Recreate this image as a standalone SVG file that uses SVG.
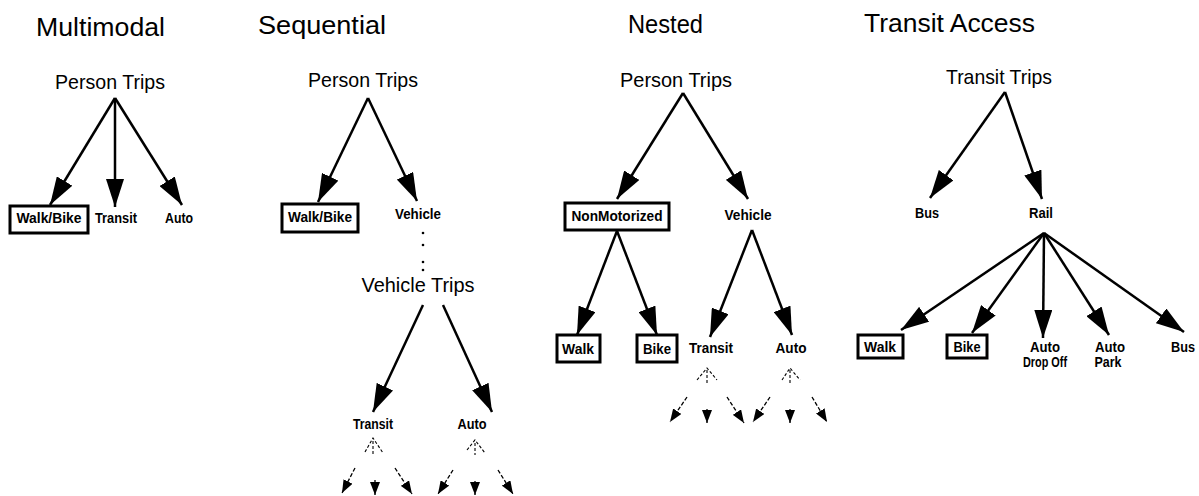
<svg xmlns="http://www.w3.org/2000/svg" width="1199" height="496" viewBox="0 0 1199 496">
<style>
.title{font-family:"Liberation Sans",Arial,sans-serif;font-size:25px;fill:#000}
.root{font-family:"Liberation Sans Narrow","Liberation Sans",Arial,sans-serif;font-size:21px;fill:#000;text-anchor:middle}
.lbl{font-family:"Liberation Sans",Arial,sans-serif;font-size:15px;font-weight:bold;fill:#000;text-anchor:middle}
.box{fill:#fff;stroke:#000;stroke-width:3}
.edge{stroke:#000;stroke-width:2.5;fill:none;marker-end:url(#big)}
.sm{stroke:#000;stroke-width:1.3;fill:none;stroke-dasharray:4 2;marker-end:url(#small)}
.caret{stroke:#000;stroke-width:1.1;fill:none;stroke-dasharray:3 2}
</style>
<defs>
<marker id="big" markerUnits="userSpaceOnUse" markerWidth="30" markerHeight="18" refX="28" refY="9" orient="auto">
<path d="M0,0 L28,9 L0,18 z" fill="#000"/>
</marker>
<marker id="small" markerUnits="userSpaceOnUse" markerWidth="14" markerHeight="10" refX="13" refY="5" orient="auto">
<path d="M0,0 L13,5 L0,10 z" fill="#000"/>
</marker>
</defs>
<rect width="1199" height="496" fill="#fff"/>

<g id="titles">
<text class="title" x="36" y="36" textLength="129" lengthAdjust="spacingAndGlyphs">Multimodal</text>
<text class="title" x="258" y="34" textLength="128" lengthAdjust="spacingAndGlyphs">Sequential</text>
<text class="title" x="628" y="33" textLength="75" lengthAdjust="spacingAndGlyphs">Nested</text>
<text class="title" x="864" y="32" textLength="171" lengthAdjust="spacingAndGlyphs">Transit   Access</text>
</g>

<g id="connectors">
<!-- Multimodal -->
<line class="edge" x1="115" y1="98" x2="50" y2="205"/>
<line class="edge" x1="115" y1="98" x2="115" y2="207"/>
<line class="edge" x1="115" y1="98" x2="182" y2="205"/>
<!-- Sequential -->
<line class="edge" x1="368" y1="98" x2="318" y2="202"/>
<line class="edge" x1="368" y1="98" x2="417" y2="201"/>
<line class="edge" x1="423" y1="305" x2="373" y2="412"/>
<line class="edge" x1="443" y1="305" x2="492" y2="412"/>
<path class="caret" d="M365,452 L373,438 L383,453 M373,441 L373,456"/>
<path class="caret" d="M467,450 L475,440 L485,453 M475,443 L475,455"/>
<line class="sm" x1="355" y1="468" x2="342" y2="493"/>
<line class="sm" x1="375" y1="480" x2="375" y2="495"/>
<line class="sm" x1="395" y1="468" x2="412" y2="494"/>
<line class="sm" x1="453" y1="470" x2="438" y2="494"/>
<line class="sm" x1="475" y1="481" x2="475" y2="495"/>
<line class="sm" x1="498" y1="470" x2="513" y2="494"/>
<!-- Nested -->
<line class="edge" x1="683" y1="93" x2="617" y2="199"/>
<line class="edge" x1="683" y1="93" x2="748" y2="199"/>
<line class="edge" x1="617" y1="231" x2="577" y2="335"/>
<line class="edge" x1="617" y1="231" x2="657" y2="335"/>
<line class="edge" x1="752" y1="230" x2="710" y2="337"/>
<line class="edge" x1="752" y1="230" x2="792" y2="335"/>
<path class="caret" d="M697,380 L707,368 L717,380 M707,370 L707,383"/>
<path class="caret" d="M782,380 L790,368 L800,380 M790,370 L790,383"/>
<line class="sm" x1="687" y1="397" x2="670" y2="422"/>
<line class="sm" x1="707" y1="409" x2="707" y2="423"/>
<line class="sm" x1="727" y1="397" x2="744" y2="423"/>
<line class="sm" x1="770" y1="397" x2="753" y2="422"/>
<line class="sm" x1="790" y1="409" x2="790" y2="423"/>
<line class="sm" x1="812" y1="397" x2="827" y2="422"/>
<!-- Transit Access -->
<line class="edge" x1="1005" y1="92" x2="930" y2="198"/>
<line class="edge" x1="1005" y1="92" x2="1042" y2="199"/>
<line class="edge" x1="1044" y1="233" x2="901" y2="330"/>
<line class="edge" x1="1044" y1="233" x2="972" y2="333"/>
<line class="edge" x1="1044" y1="233" x2="1043" y2="338"/>
<line class="edge" x1="1044" y1="233" x2="1109" y2="335"/>
<line class="edge" x1="1044" y1="233" x2="1184" y2="332"/>
</g>

<!-- Multimodal nodes -->
<g id="mm-root"><text class="root" x="110" y="89" textLength="110" lengthAdjust="spacingAndGlyphs">Person  Trips</text></g>
<g id="mm-walkbike"><rect class="box" x="10" y="206" width="78" height="27"/><text class="lbl" x="49" y="223" textLength="65" lengthAdjust="spacingAndGlyphs">Walk/Bike</text></g>
<g id="mm-transit"><text class="lbl" x="116" y="223" textLength="42" lengthAdjust="spacingAndGlyphs">Transit</text></g>
<g id="mm-auto"><text class="lbl" x="179" y="223" textLength="28" lengthAdjust="spacingAndGlyphs">Auto</text></g>

<!-- Sequential nodes -->
<g id="sq-root"><text class="root" x="363" y="87" textLength="110" lengthAdjust="spacingAndGlyphs">Person  Trips</text></g>
<g id="sq-walkbike"><rect class="box" x="282" y="204" width="76" height="28"/><text class="lbl" x="320" y="222" textLength="64" lengthAdjust="spacingAndGlyphs">Walk/Bike</text></g>
<g id="sq-vehicle"><text class="lbl" x="418" y="219" textLength="46" lengthAdjust="spacingAndGlyphs">Vehicle</text></g>
<g id="sq-dots"><circle cx="423" cy="233" r="1.3"/><circle cx="423" cy="245" r="1.3"/><circle cx="423" cy="262" r="1.3"/><circle cx="423" cy="270" r="1.3"/></g>
<g id="sq-vtrips"><text class="root" x="418" y="292" textLength="113" lengthAdjust="spacingAndGlyphs">Vehicle  Trips</text></g>
<g id="sq-transit"><text class="lbl" x="373" y="429" textLength="40" lengthAdjust="spacingAndGlyphs">Transit</text></g>
<g id="sq-auto"><text class="lbl" x="472" y="429" textLength="29" lengthAdjust="spacingAndGlyphs">Auto</text></g>

<!-- Nested nodes -->
<g id="ne-root"><text class="root" x="676" y="87" textLength="112" lengthAdjust="spacingAndGlyphs">Person  Trips</text></g>
<g id="ne-nonmot"><rect class="box" x="565" y="203" width="104" height="27"/><text class="lbl" x="617" y="221" textLength="91" lengthAdjust="spacingAndGlyphs">NonMotorized</text></g>
<g id="ne-vehicle"><text class="lbl" x="748" y="220" textLength="47" lengthAdjust="spacingAndGlyphs">Vehicle</text></g>
<g id="ne-walk"><rect class="box" x="557" y="335" width="43" height="27"/><text class="lbl" x="578" y="354" textLength="32" lengthAdjust="spacingAndGlyphs">Walk</text></g>
<g id="ne-bike"><rect class="box" x="637" y="335" width="40" height="27"/><text class="lbl" x="657" y="354" textLength="28" lengthAdjust="spacingAndGlyphs">Bike</text></g>
<g id="ne-transit"><text class="lbl" x="711" y="353" textLength="44" lengthAdjust="spacingAndGlyphs">Transit</text></g>
<g id="ne-auto"><text class="lbl" x="791" y="353" textLength="31" lengthAdjust="spacingAndGlyphs">Auto</text></g>

<!-- Transit Access nodes -->
<g id="ta-root"><text class="root" x="999" y="84" textLength="106" lengthAdjust="spacingAndGlyphs">Transit  Trips</text></g>
<g id="ta-bus"><text class="lbl" x="927" y="218" textLength="24" lengthAdjust="spacingAndGlyphs">Bus</text></g>
<g id="ta-rail"><text class="lbl" x="1041" y="218" textLength="24" lengthAdjust="spacingAndGlyphs">Rail</text></g>
<g id="ta-walk"><rect class="box" x="858" y="335" width="45" height="23"/><text class="lbl" x="880" y="352" textLength="32" lengthAdjust="spacingAndGlyphs">Walk</text></g>
<g id="ta-bike"><rect class="box" x="947" y="335" width="40" height="23"/><text class="lbl" x="967" y="352" textLength="27" lengthAdjust="spacingAndGlyphs">Bike</text></g>
<g id="ta-dropoff"><text class="lbl" x="1045" y="352" textLength="30" lengthAdjust="spacingAndGlyphs">Auto</text><text class="lbl" x="1045" y="367" textLength="44" lengthAdjust="spacingAndGlyphs">Drop Off</text></g>
<g id="ta-park"><text class="lbl" x="1110" y="352" textLength="30" lengthAdjust="spacingAndGlyphs">Auto</text><text class="lbl" x="1108" y="367" textLength="27" lengthAdjust="spacingAndGlyphs">Park</text></g>
<g id="ta-bus2"><text class="lbl" x="1183" y="352" textLength="24" lengthAdjust="spacingAndGlyphs">Bus</text></g>
</svg>
